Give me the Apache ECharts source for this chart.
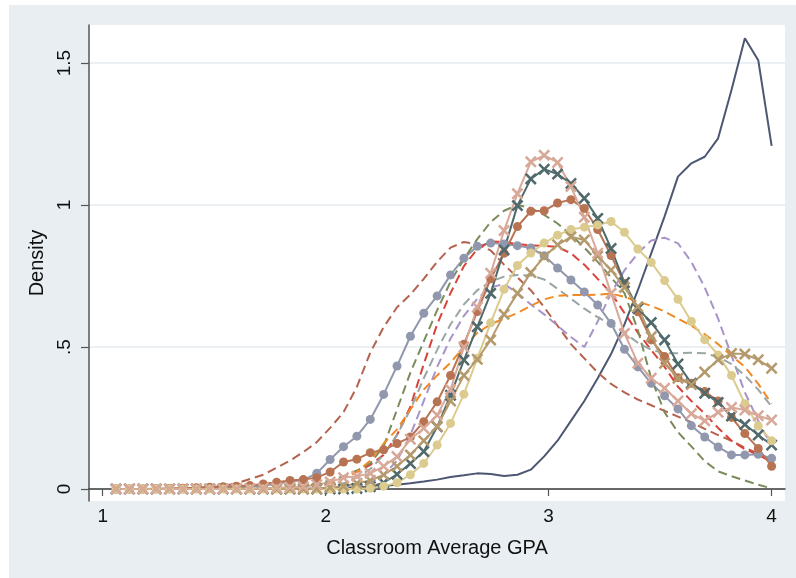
<!DOCTYPE html>
<html>
<head>
<meta charset="utf-8">
<script src="https://cdn.jsdelivr.net/npm/echarts@6/dist/echarts.min.js"></script>
<style>
  html, body { margin: 0; padding: 0; background: #fff; }
  #main { width: 796px; height: 578px; }
</style>
</head>
<body>
<div id="main"></div>
<script>
// evaluation points (classroom average GPA)
let gpa = [1.06,1.12,1.18,1.24,1.30,1.36,1.42,1.48,1.54,1.60,
           1.66,1.72,1.78,1.84,1.90,1.96,2.02,2.08,2.14,2.20,
           2.26,2.32,2.38,2.44,2.50,2.56,2.62,2.68,2.74,2.80,
           2.86,2.92,2.98,3.04,3.10,3.16,3.22,3.28,3.34,3.40,
           3.46,3.52,3.58,3.64,3.70,3.76,3.82,3.88,3.94,4.00]

let xTicks = [1, 2, 3, 4]
let yTicks = [0, 0.5, 1, 1.5]

// density estimates, one per group
let navySolid = [0,0,0,0,0,0,0,0,0,0, 0,0,0,0,0.001,0.002,0.003,0.004,0.006,0.008,
  0.011,0.015,0.02,0.026,0.033,0.042,0.048,0.055,0.053,0.046,
  0.05,0.068,0.115,0.17,0.24,0.31,0.39,0.475,0.58,0.70,
  0.83,0.96,1.10,1.147,1.17,1.235,1.405,1.587,1.51,1.208]
let maroonDash = [0,0,0,0,0.001,0.002,0.004,0.007,0.011,0.02,
  0.035,0.05,0.075,0.10,0.13,0.165,0.215,0.27,0.36,0.48,
  0.57,0.64,0.685,0.74,0.80,0.85,0.87,0.862,0.84,0.79,
  0.745,0.70,0.64,0.575,0.51,0.46,0.41,0.37,0.34,0.315,
  0.295,0.275,0.255,0.235,0.212,0.19,0.17,0.145,0.125,0.10]
let grayDots = [0,0,0,0,0,0,0.001,0.002,0.003,0.005,
  0.008,0.012,0.018,0.026,0.032,0.055,0.104,0.149,0.186,0.245,
  0.333,0.433,0.538,0.619,0.68,0.754,0.813,0.855,0.866,0.863,
  0.857,0.849,0.821,0.778,0.736,0.694,0.648,0.583,0.492,0.43,
  0.372,0.328,0.282,0.223,0.183,0.148,0.12,0.12,0.122,0.108]
let redDash = [0,0,0,0,0,0,0,0,0,0, 0,0,0,0.005,0.01,0.015,0.025,0.04,0.06,0.085,
  0.12,0.19,0.29,0.44,0.58,0.69,0.785,0.845,0.872,0.87,
  0.862,0.858,0.856,0.852,0.83,0.79,0.74,0.69,0.62,0.55,
  0.49,0.43,0.36,0.31,0.265,0.215,0.17,0.14,0.12,0.095]
let oliveDash = [0,0,0,0,0,0,0,0,0,0.001, 0.002,0.003,0.004,0.005,0.01,0.02,0.03,0.045,0.065,0.09,
  0.15,0.28,0.41,0.52,0.63,0.73,0.81,0.88,0.94,0.98,
  1.0,0.99,0.965,0.935,0.895,0.85,0.80,0.745,0.69,0.56,
  0.39,0.27,0.20,0.15,0.098,0.062,0.045,0.03,0.015,0.002]
let purpleDash = [0,0,0,0,0,0,0,0,0,0, 0,0,0,0,0,0,0.002,0.005,0.01,0.02,
  0.05,0.10,0.19,0.31,0.43,0.53,0.61,0.67,0.71,0.722,
  0.69,0.65,0.615,0.575,0.535,0.50,0.59,0.69,0.77,0.83,
  0.875,0.885,0.865,0.80,0.71,0.60,0.47,0.34,0.24,0.15]
let grayDash = [0,0,0,0,0,0,0,0,0,0, 0,0,0,0,0,0,0.01,0.02,0.04,0.07,
  0.12,0.19,0.28,0.39,0.49,0.58,0.65,0.70,0.73,0.748,
  0.754,0.752,0.738,0.705,0.67,0.635,0.605,0.58,0.55,0.515,
  0.49,0.478,0.478,0.48,0.478,0.465,0.44,0.40,0.35,0.29]
let orangeDash = [0,0,0,0,0,0,0,0,0,0, 0,0,0,0,0.005,0.01,0.02,0.04,0.06,0.10,
  0.16,0.21,0.28,0.35,0.40,0.445,0.50,0.55,0.58,0.60,
  0.62,0.645,0.668,0.68,0.683,0.683,0.684,0.688,0.677,0.66,
  0.645,0.625,0.60,0.575,0.545,0.51,0.47,0.43,0.37,0.30]
let brownDots = [0,0,0,0.001,0.002,0.003,0.004,0.006,0.008,0.010,
  0.012,0.018,0.024,0.03,0.033,0.04,0.06,0.095,0.105,0.128,
  0.138,0.16,0.183,0.237,0.307,0.40,0.51,0.625,0.74,0.83,
  0.924,0.978,0.98,1.007,1.019,0.988,0.914,0.822,0.724,0.624,
  0.525,0.467,0.392,0.372,0.343,0.31,0.252,0.195,0.143,0.08]
let slateCross = [0,0,0,0,0,0,0,0,0,0, 0,0,0,0,0,0,0,0,0.002,0.008,
  0.022,0.052,0.09,0.132,0.219,0.33,0.454,0.571,0.689,0.842,
  0.998,1.092,1.126,1.109,1.076,1.024,0.953,0.847,0.727,0.636,
  0.586,0.525,0.44,0.372,0.337,0.305,0.257,0.227,0.19,0.155]
let khakiDots = [0,0,0,0,0,0,0,0,0,0, 0,0,0,0,0,0,0,0,0,0.003,
  0.01,0.022,0.05,0.09,0.155,0.231,0.334,0.46,0.585,0.703,
  0.787,0.831,0.866,0.894,0.914,0.922,0.93,0.942,0.904,0.845,
  0.798,0.734,0.668,0.59,0.526,0.472,0.40,0.30,0.222,0.17]
let tanCross = [0,0,0,0,0,0,0,0,0,0, 0,0,0,0,0,0,0.005,0.01,0.02,0.03,
  0.05,0.08,0.12,0.17,0.22,0.31,0.40,0.457,0.525,0.615,
  0.689,0.762,0.818,0.86,0.888,0.877,0.82,0.771,0.71,0.642,
  0.536,0.443,0.39,0.368,0.412,0.455,0.477,0.475,0.455,0.425]
let pinkCross = [0,0,0,0,0,0,0,0,0,0.001, 0.002,0.003,0.004,0.006,0.008,0.015,0.025,0.04,0.045,0.055,
  0.08,0.114,0.175,0.214,0.26,0.35,0.50,0.64,0.76,0.91,
  1.04,1.152,1.175,1.15,1.065,0.957,0.83,0.689,0.548,0.443,
  0.39,0.355,0.31,0.265,0.24,0.27,0.287,0.278,0.258,0.243]

const CROSS = 'path://M0,1.5L1.5,0L5,3.5L8.5,0L10,1.5L6.5,5L10,8.5L8.5,10L5,6.5L1.5,10L0,8.5L3.5,5Z'

function pairs(ys) {
  return gpa.map((x, i) => [x, ys[i]])
}

function curve(ys, color, kind) {
  let s = {
    type: 'line',
    data: pairs(ys),
    lineStyle: { color: color, width: 2 },
    itemStyle: { color: color },
    showSymbol: false,
    symbol: 'none',
    emphasis: { disabled: true },
    silent: true
  }
  if (kind === 'dash') {
    s.lineStyle.type = [9, 5]
  } else if (kind === 'dot') {
    s.symbol = 'circle'
    s.symbolSize = 9
    s.showSymbol = true
    s.showAllSymbol = true
  } else if (kind === 'cross') {
    s.symbol = CROSS
    s.symbolSize = 12
    s.showSymbol = true
    s.showAllSymbol = true
  }
  return s
}

var myChart = echarts.init(document.getElementById('main'), null, { renderer: 'canvas' })

var option = {
  animation: false,
  backgroundColor: '#ffffff',
  textStyle: { fontFamily: 'Liberation Sans, Arial, sans-serif' },
  graphic: [{
    type: 'rect',
    z: -10,
    shape: { x: 9, y: 5, width: 787, height: 573 },
    style: { fill: '#e8eef1' }
  }],
  grid: {
    left: 89, right: 11, top: 25, bottom: 77,
    show: true, backgroundColor: '#ffffff', borderWidth: 0
  },
  xAxis: {
    type: 'value',
    min: 0.9386, max: 4.06,
    name: 'Classroom Average GPA',
    nameLocation: 'middle',
    nameGap: 37,
    nameTextStyle: { fontSize: 20, color: '#111' },
    axisLine: { show: true, lineStyle: { color: '#3c3c3c', width: 1.5 } },
    axisTick: { show: true, length: 7, customValues: xTicks, lineStyle: { color: '#555', width: 1.2 } },
    axisLabel: { customValues: xTicks, fontSize: 19, color: '#111', margin: 6 },
    splitLine: { show: false }
  },
  yAxis: {
    type: 'value',
    min: -0.0423, max: 1.634,
    name: 'Density',
    nameLocation: 'middle',
    nameGap: 36,
    nameRotate: 90,
    nameTextStyle: { fontSize: 20, color: '#111' },
    axisLine: { show: true, lineStyle: { color: '#555', width: 1.5 } },
    axisTick: { show: true, length: 8, customValues: yTicks, lineStyle: { color: '#555', width: 1.2 } },
    axisLabel: {
      customValues: yTicks, fontSize: 19, color: '#111', margin: 15, rotate: 90,
      formatter: v => String(v).replace(/^0\./, '.')
    },
    splitLine: { show: true, lineStyle: { color: '#e3ebef', width: 1.5 } }
  },
  series: [
    curve(navySolid, '#4c5772', 'solid'),
    curve(maroonDash, '#b5634f', 'dash'),
    curve(grayDots, '#9198ad', 'dot'),
    curve(redDash, '#d9433a', 'dash'),
    curve(oliveDash, '#7b8c5c', 'dash'),
    curve(purpleDash, '#a894c9', 'dash'),
    curve(grayDash, '#98a7a5', 'dash'),
    curve(orangeDash, '#f08a24', 'dash'),
    curve(brownDots, '#b87352', 'dot'),
    curve(slateCross, '#50696b', 'cross'),
    curve(khakiDots, '#dccb8e', 'dot'),
    curve(tanCross, '#b49a6c', 'cross'),
    curve(pinkCross, '#d8a898', 'cross')
  ]
}

myChart.setOption(option)
</script>
</body>
</html>
